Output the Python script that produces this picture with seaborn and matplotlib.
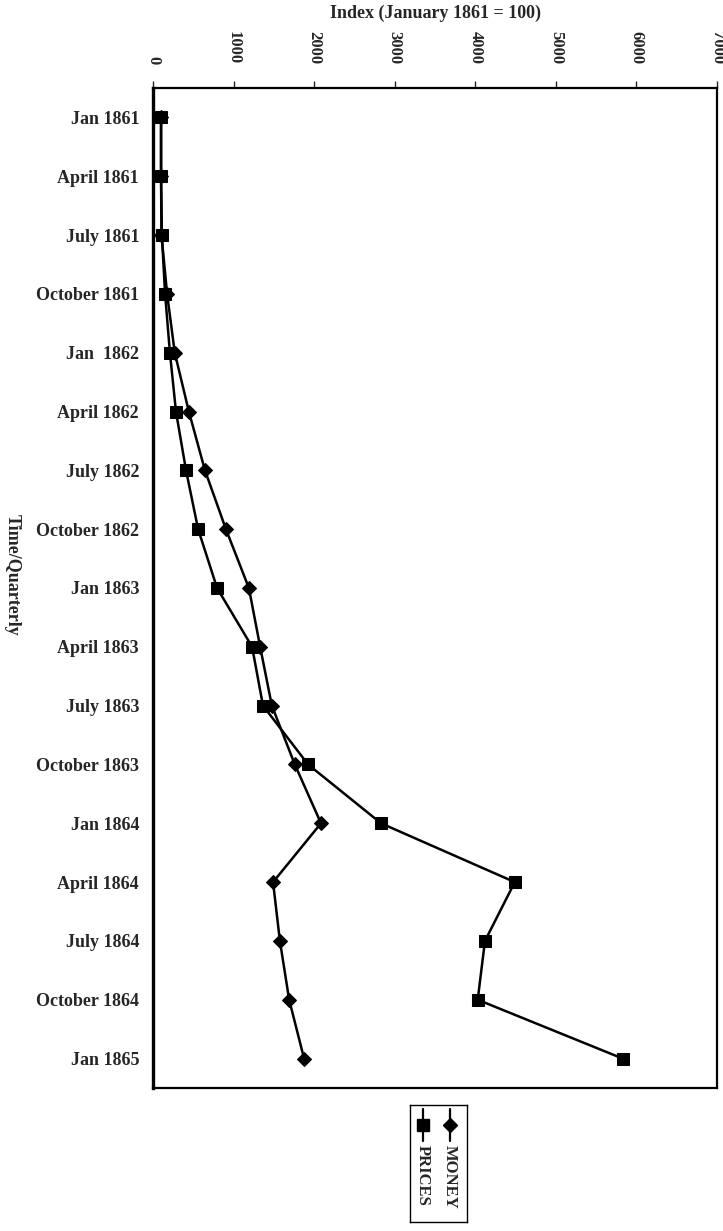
import numpy as np
import pandas as pd
import matplotlib
matplotlib.use("Agg")
import matplotlib.pyplot as plt
import seaborn as sns

# quarters (top to bottom)
quarters = ["Jan 1861", "April 1861", "July 1861", "October 1861",
            "Jan  1862", "April 1862", "July 1862", "October 1862",
            "Jan 1863", "April 1863", "July 1863", "October 1863",
            "Jan 1864", "April 1864", "July 1864", "October 1864",
            "Jan 1865"]
money = [100, 100, 105, 175, 270, 445, 645, 905, 1190, 1330, 1475,
         1760, 2085, 1490, 1575, 1690, 1875]
prices = [100, 100, 110, 150, 210, 285, 410, 560, 795, 1230, 1365,
          1925, 2830, 4490, 4120, 4030, 5830]
x_ticks = [0, 1000, 2000, 3000, 4000, 5000, 6000, 7000]

df = pd.DataFrame({
    "pos": list(range(len(quarters))) * 2,
    "value": money + prices,
    "series": ["MONEY"] * len(quarters) + ["PRICES"] * len(quarters),
})

sns.set_style("white")
plt.rcParams["font.family"] = ["Liberation Serif", "DejaVu Serif"]
plt.rcParams["font.weight"] = "bold"

fig = plt.figure(figsize=(7.23, 12.31), dpi=100)
ax = fig.add_axes([153 / 723, 143 / 1231, 564 / 723, 1000 / 1231])

sns.lineplot(data=df, x="value", y="pos", hue="series", style="series",
             markers={"MONEY": "D", "PRICES": "s"}, dashes=False,
             palette={"MONEY": "black", "PRICES": "black"},
             sort=False, estimator=None, legend=False, ax=ax,
             linewidth=1.8, markersize=8, markeredgecolor="black")
for line in ax.get_lines():
    if line.get_marker() == "s":
        line.set_markersize(9)
    else:
        line.set_markersize(7.5)

ax.set_xlim(0, 7000)
ax.set_ylim(len(quarters) - 0.5, -0.5)

# x axis on top, rotated numbers
ax.xaxis.tick_top()
ax.set_xticks(x_ticks)
ax.set_xticklabels([str(v) for v in x_ticks], rotation=-90,
                   fontsize=12, fontweight="bold")
ax.tick_params(axis="x", direction="out", length=5, width=1, pad=12)
ax.set_xlabel("")
fig.text(435 / 723, 1 - 13 / 1231, "Index (January 1861 = 100)",
         ha="center", va="center", fontsize=13, fontweight="bold")

# categorical y axis: ticks between categories, labels at centres
ax.set_yticks(np.arange(-0.5, len(quarters), 1))
ax.set_yticklabels([])
ax.set_yticks(np.arange(len(quarters)), minor=True)
ax.set_yticklabels(quarters, minor=True, fontsize=13, fontweight="bold")
ax.tick_params(axis="y", which="major", direction="out", length=6, width=1)
ax.tick_params(axis="y", which="minor", length=0, pad=10)
ax.set_ylabel("")

for s in ax.spines.values():
    s.set_visible(True)
    s.set_color("black")
    s.set_linewidth(1.6)
ax.spines["left"].set_linewidth(2.4)

fig.text(12 / 723, 1 - 575 / 1231, "Time/Quarterly", rotation=-90,
         ha="center", va="center", fontsize=13, fontweight="bold")

# legend box (rotated like the rest of the figure)
lax = fig.add_axes([410 / 723, 9 / 1231, 57 / 723, 117 / 1231])
lax.set_xlim(0, 57)
lax.set_ylim(117, 0)
lax.set_xticks([])
lax.set_yticks([])
for s in lax.spines.values():
    s.set_linewidth(1)
    s.set_color("black")
for xpos, mk, ms, lab in [(40, "D", 7, "MONEY"), (13, "s", 8, "PRICES")]:
    lax.plot([xpos, xpos], [4, 36], color="black", linewidth=1.6)
    lax.plot([xpos], [20], marker=mk, markersize=ms, color="black")
    lax.text(xpos, 40, lab, rotation=-90, ha="center", va="top",
             fontsize=12, fontweight="bold")

fig.savefig("out.png", dpi=100)
